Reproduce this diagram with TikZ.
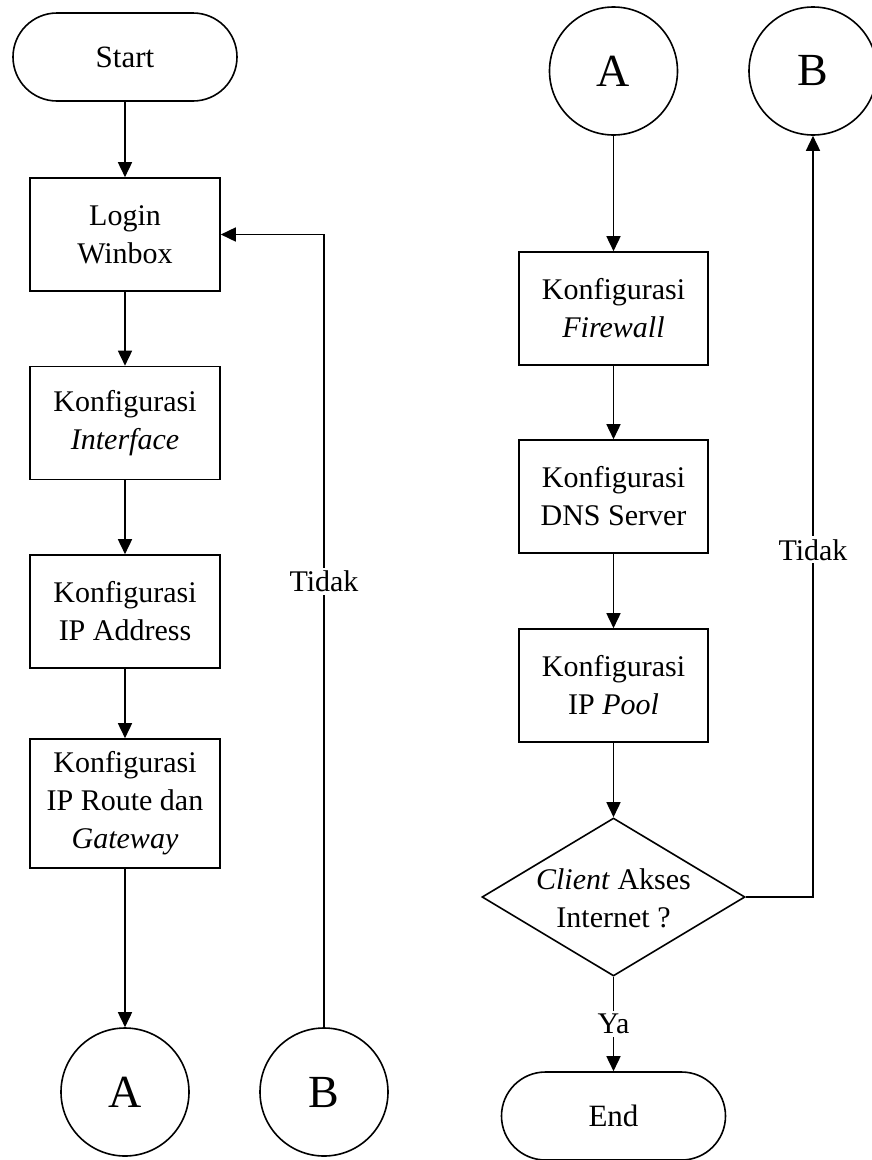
\documentclass[tikz,border=0pt]{standalone}
\usepackage{fontspec}
\setmainfont{Liberation Serif}
\usetikzlibrary{shapes.geometric,shapes.misc,arrows.meta}
\begin{document}
\begin{tikzpicture}[x=1pt,y=-1pt,
  line width=1.6pt,
  every node/.style={font=\fontsize{30}{38}\selectfont, align=center},
  procbox/.style={draw, rectangle, minimum width=190pt, minimum height=113pt, inner sep=0pt},
  term/.style={draw, rounded rectangle, minimum width=224pt, minimum height=88pt, inner sep=0pt, font=\fontsize{31}{36}\selectfont},
  conn/.style={draw, circle, minimum size=128pt, inner sep=0pt, font=\fontsize{46}{50}\selectfont},
  arr/.style={-{Triangle[length=15pt,width=14pt]}},
  lbl/.style={fill=white, inner sep=3pt}
]
\useasboundingbox (0,0) rectangle (872,1160);
\fill[white] (0,0) rectangle (872,1160);

% left column
\node[term] (start) at (125,57) {Start};
\node[procbox] (login) at (125,234.5) {Login\\Winbox};
\node[procbox] (iface) at (125,423) {Konfigurasi\\\textit{Interface}};
\node[procbox] (ipaddr) at (125,611.5) {Konfigurasi\\IP Address};
\node[procbox, minimum height=129pt] (route) at (125,803.5) {Konfigurasi\\IP Route dan\\\textit{Gateway}};
\node[conn] (cA1) at (125,1092) {A};
\node[conn] (cB1) at (324,1092) {B};

% right column
\node[conn] (cA2) at (613.5,71) {A};
\node[conn] (cB2) at (813,71) {B};
\node[procbox, minimum width=189pt] (fw) at (613.5,308.5) {Konfigurasi\\\textit{Firewall}};
\node[procbox, minimum width=189pt] (dns) at (613.5,496.5) {Konfigurasi\\DNS Server};
\node[procbox, minimum width=189pt] (pool) at (613.5,685.5) {Konfigurasi\\IP \textit{Pool}};
\node[draw, diamond, minimum width=263pt, minimum height=158pt, inner sep=0pt] (dec) at (613.5,897) {};
\node (dectxt) at (613.5,898) {\textit{Client} Akses\\Internet ?};
\node[term] (end) at (613.5,1116) {End};

% connectors
\draw[arr] (start) -- (login);
\draw[arr] (login) -- (iface);
\draw[arr] (iface) -- (ipaddr);
\draw[arr] (ipaddr) -- (route);
\draw[arr] (route) -- (cA1);
\draw[arr] (cB1.north) |- (login.east) node[lbl, pos=0.281] {Tidak};

\draw[arr] (cA2) -- (fw);
\draw[arr] (fw) -- (dns);
\draw[arr] (dns) -- (pool);
\draw[arr] (pool) -- (dec.north);
\draw[arr] (dec.east) -| (cB2.south) node[lbl, pos=0.728] {Tidak};
\draw[arr] (dec.south) -- (end.north) node[lbl, pos=0.5] {Ya};
\end{tikzpicture}
\end{document}
